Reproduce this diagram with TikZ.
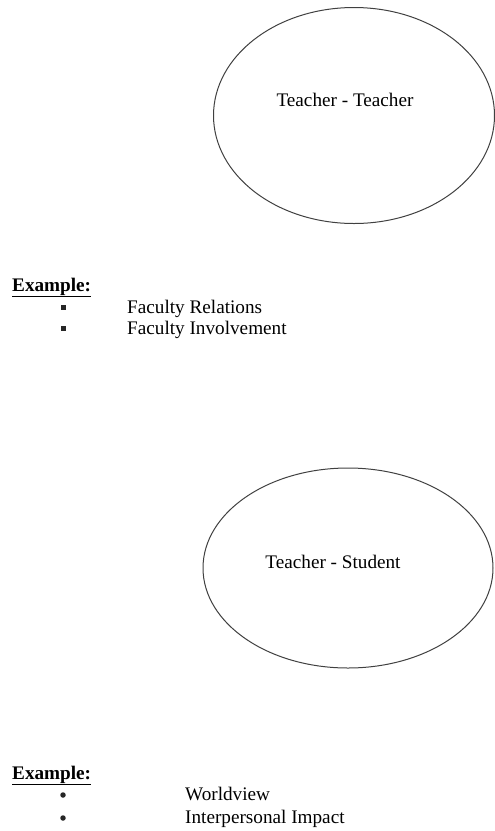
\documentclass[tikz,border=0pt]{standalone}
\usepackage{fontspec}
\setmainfont{Liberation Serif}
\usetikzlibrary{shapes.geometric}

\begin{document}
\begin{tikzpicture}[x=1pt, y=-1pt,
	relation/.style={ellipse, draw=black!75, line width=1pt, inner sep=0pt},
	txt/.style={font=\fontsize{19.2}{23}\selectfont, inner sep=0pt},
	item/.style={txt, anchor=base west},
	sqbullet/.style={fill=black!85, minimum size=5pt, inner sep=0pt},
	dotbullet/.style={circle, fill=black!85, minimum size=5.5pt, inner sep=0pt},
	]
	\useasboundingbox (0,0) rectangle (495,831);

	% first relation
	\node[relation, minimum width=281pt, minimum height=216pt] (tt) at (354,115.5) {};
	\node[txt] (ttlabel) at (345,100) {Teacher - Teacher};

	\node[item] (ex1) at (12,291) {\underline{\textbf{Example:}}};
	\node[sqbullet] (sq1) at (63,307) {};
	\node[sqbullet] (sq2) at (63,328) {};
	\node[item] (fr) at (127,313) {Faculty Relations};
	\node[item] (fi) at (127,334) {Faculty Involvement};

	% second relation
	\node[relation, minimum width=290pt, minimum height=200pt] (ts) at (348,568) {};
	\node[txt] (tslabel) at (333,562) {Teacher - Student};

	\node[item] (ex2) at (12,779) {\underline{\textbf{Example:}}};
	\node[dotbullet] (dt1) at (63,795) {};
	\node[dotbullet] (dt2) at (63,818) {};
	\node[item] (wv) at (185,800) {Worldview};
	\node[item] (ii) at (185,823) {Interpersonal Impact};

\end{tikzpicture}
\end{document}
